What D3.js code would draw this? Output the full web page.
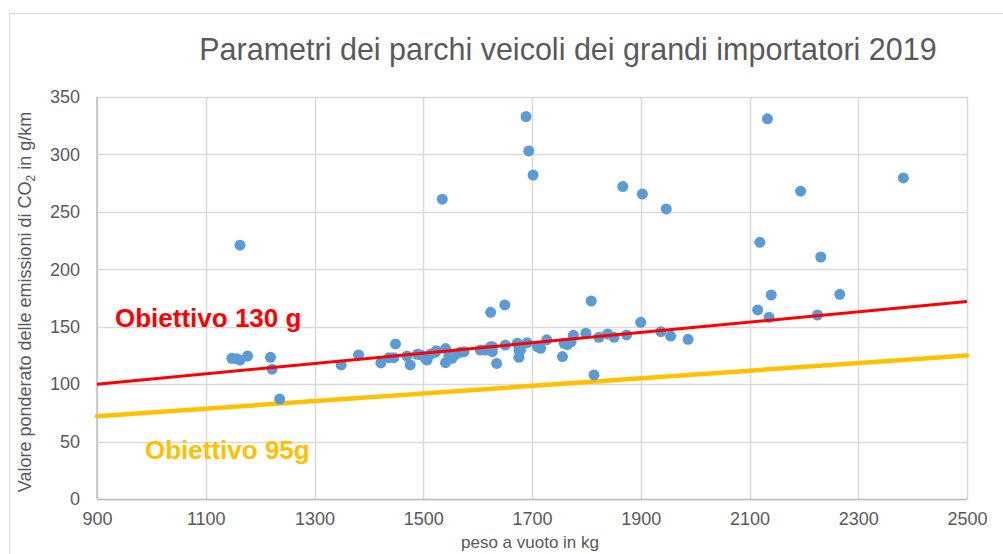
<!DOCTYPE html>
<html>
<head>
<meta charset="utf-8">
<script src="https://cdn.jsdelivr.net/npm/d3@7"></script>
<style>
  html, body { margin: 0; padding: 0; background: #fff; }
  svg { display: block; font-family: "Liberation Sans", Arial, sans-serif; }
</style>
</head>
<body>
<svg id="chart" width="1003" height="554"></svg>
<script>
// ---- data ----
const title = "Parametri dei parchi veicoli dei grandi importatori 2019";
const xTicks = [900, 1100, 1300, 1500, 1700, 1900, 2100, 2300, 2500];
const yTicks = [0, 50, 100, 150, 200, 250, 300, 350];

const weights = [
  1148, 1157, 1163, 1177, 1163, 1219, 1222, 1236, 1349, 1381,
  1422, 1437, 1446, 1449, 1470, 1476, 1489, 1495, 1504, 1507,
  1513, 1522, 1524, 1535, 1541, 1541, 1547, 1553, 1559, 1568,
  1575, 1605, 1614, 1624, 1624, 1627, 1627, 1635, 1650, 1651,
  1673, 1676, 1676, 1679, 1689, 1691, 1694, 1702, 1710, 1716,
  1727, 1756, 1759, 1765, 1772, 1776, 1799, 1809, 1814, 1823,
  1839, 1851, 1867, 1874, 1900, 1903, 1937, 1947, 1955, 1987,
  2115, 2119, 2133, 2136, 2140, 2194, 2225, 2231, 2266, 2383
];
const emissions = [
  122.5, 122, 121, 124.5, 221, 123.4, 113, 87, 116.7, 125.4,
  118.5, 123, 123, 135, 124.5, 116.7, 126, 125.4, 122.5, 121,
  126, 127.7, 129, 261, 131, 118.7, 124.5, 122.5, 126, 127.7,
  128.3, 129.7, 129.7, 162.5, 132.6, 132.6, 128.3, 118, 169, 134,
  135.6, 129.7, 123.4, 129.7, 333, 136, 303, 282, 132.6, 131.2,
  138.6, 124, 135.6, 134.5, 137, 142.5, 144.3, 172.4, 108, 140.8,
  143.7, 140.8, 272, 142.8, 153.8, 265.5, 145.7, 252.5, 141.9, 139,
  164.6, 223.5, 331, 158.2, 177.6, 268, 160.2, 210.7, 178.2, 279.5
];

const lineWeights = [900, 2500];
const target130 = [100, 172];
const target95 = [72, 125];

// ---- layout ----
const svg = d3.select("#chart");
const x = d3.scaleLinear().domain([900, 2500]).range([97, 967]);
const y = d3.scaleLinear().domain([0, 350]).range([499, 97]);
const textCol = "#595959";
const gridCol = "#D9D9D9";

// outer chart border
svg.append("rect")
  .attr("x", 9.5).attr("y", 13.5)
  .attr("width", 1010).attr("height", 560)
  .attr("fill", "none").attr("stroke", gridCol).attr("stroke-width", 1);

// gridlines
const g = svg.append("g");
g.selectAll("line.h").data(yTicks).join("line")
  .attr("class", "h")
  .attr("x1", x(900)).attr("x2", x(2500))
  .attr("y1", d => Math.round(y(d)) + 0.5).attr("y2", d => Math.round(y(d)) + 0.5)
  .attr("stroke", gridCol).attr("stroke-width", 1.5);
g.selectAll("line.v").data(xTicks).join("line")
  .attr("class", "v")
  .attr("y1", y(0)).attr("y2", y(350))
  .attr("x1", d => Math.round(x(d)) + 0.5).attr("x2", d => Math.round(x(d)) + 0.5)
  .attr("stroke", gridCol).attr("stroke-width", 1.5);

// axes (labels via d3 axes)
const xAxis = svg.append("g")
  .attr("transform", `translate(0,${y(0)})`)
  .call(d3.axisBottom(x).tickValues(xTicks).tickSize(0).tickPadding(13).tickFormat(d3.format("d")));
const yAxis = svg.append("g")
  .attr("transform", `translate(${x(900)},0)`)
  .call(d3.axisLeft(y).tickValues(yTicks).tickSize(0).tickPadding(17).tickFormat(d3.format("d")));
[xAxis, yAxis].forEach(a => {
  a.select(".domain").attr("stroke", "#BFBFBF").attr("stroke-width", 1.5);
  a.selectAll("text").attr("fill", textCol).attr("font-size", 18)
    .attr("font-family", "Liberation Sans, Arial, sans-serif");
});
yAxis.select(".domain").remove();
svg.append("line")
  .attr("x1", x(900)).attr("x2", x(900)).attr("y1", y(0)).attr("y2", y(350))
  .attr("stroke", "#BFBFBF").attr("stroke-width", 1.5);

// target lines
const lineGen = d3.line().x(d => x(d[0])).y(d => y(d[1]));
svg.append("path")
  .datum(lineWeights.map((w, i) => [w, target95[i]]))
  .attr("d", lineGen).attr("fill", "none")
  .attr("stroke", "#FFC000").attr("stroke-width", 4.5).attr("stroke-linecap", "round");

// points
svg.append("g").selectAll("circle")
  .data(weights.map((w, i) => [w, emissions[i]]))
  .join("circle")
  .attr("cx", d => x(d[0])).attr("cy", d => y(d[1]))
  .attr("r", 5.5).attr("fill", "#5B9BD5");

// red target line drawn above the points
svg.append("path")
  .datum(lineWeights.map((w, i) => [w, target130[i]]))
  .attr("d", lineGen).attr("fill", "none")
  .attr("stroke", "#FF0000").attr("stroke-width", 3);

// labels
svg.append("text").attr("x", 115).attr("y", 327)
  .attr("font-size", 26).attr("font-weight", "bold").attr("fill", "#FF0000")
  .text("Obiettivo 130 g");
svg.append("text").attr("x", 145).attr("y", 459)
  .attr("font-size", 26).attr("font-weight", "bold").attr("fill", "#FFC000")
  .text("Obiettivo 95g");

// title
svg.append("text").attr("x", 568).attr("y", 60)
  .attr("text-anchor", "middle").attr("font-size", 30.5).attr("fill", textCol)
  .text(title);

// axis titles
svg.append("text").attr("x", (x(900) + x(2500)) / 2 - 2).attr("y", 548)
  .attr("text-anchor", "middle").attr("font-size", 17).attr("fill", textCol)
  .text("peso a vuoto in kg");

const yt = svg.append("text")
  .attr("transform", "translate(31,302) rotate(-90)")
  .attr("text-anchor", "middle").attr("font-size", 18).attr("fill", textCol);
yt.append("tspan").text("Valore ponderato delle emissioni di CO");
yt.append("tspan").attr("font-size", 12).attr("dy", 4).text("2");
yt.append("tspan").attr("dy", -4).text(" in g/km");
</script>
</body>
</html>
